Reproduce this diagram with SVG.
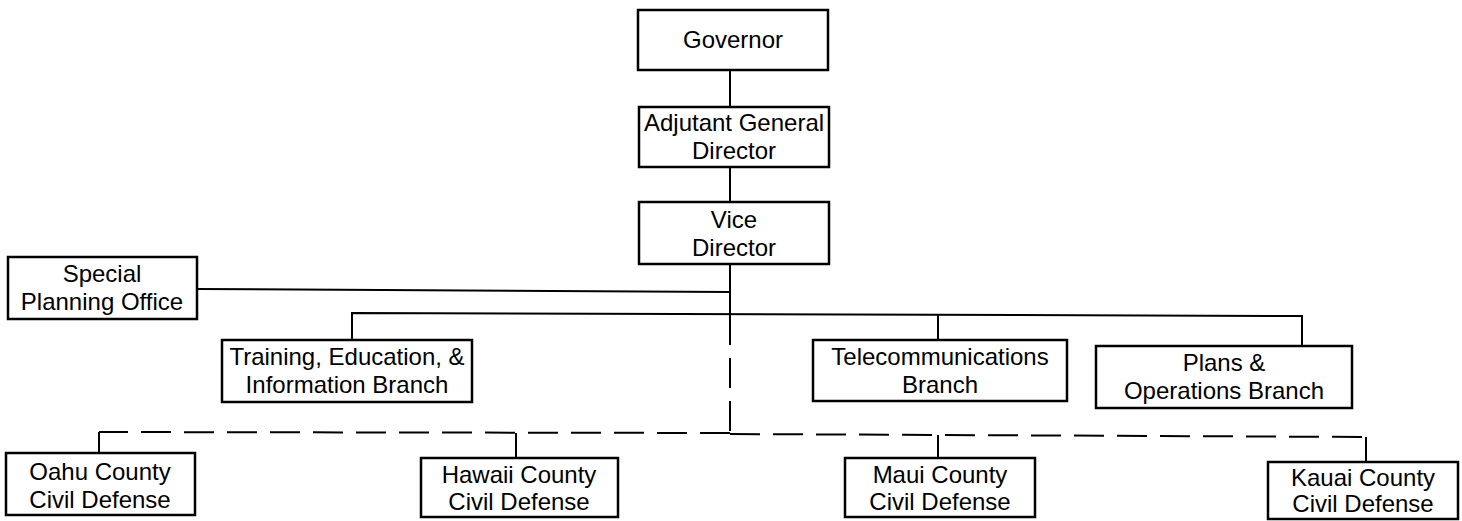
<svg xmlns="http://www.w3.org/2000/svg" width="1462" height="521" viewBox="0 0 1462 521">
<style>
.n rect{fill:#fff;stroke:#000;stroke-width:2.5}
text{font-family:"Liberation Sans",Arial,sans-serif;font-size:24px;fill:#000;text-anchor:middle}
.c line,.c polyline{stroke:#000;stroke-width:2;fill:none}
.c .d{stroke-dasharray:30 13}
</style>
<rect width="1462" height="521" fill="#fff"/>
<g class="c" id="connectors">
<line x1="730" y1="70" x2="730" y2="107"/>
<line x1="730" y1="167" x2="730" y2="202"/>
<line x1="730" y1="264" x2="730" y2="315"/>
<line x1="197" y1="289" x2="730" y2="292"/>
<polyline points="352,340 352,313 1302,316 1302,346"/>
<line x1="938" y1="315" x2="938" y2="340"/>
<line class="d" x1="730" y1="315" x2="730" y2="433"/>
<polyline class="d" points="730,433 99,432"/>
<polyline class="d" points="730,434 1366,437"/>
<line x1="99" y1="432" x2="99" y2="453"/>
<line x1="516" y1="433" x2="516" y2="458"/>
<line x1="938" y1="435" x2="938" y2="458"/>
<line x1="1366" y1="437" x2="1366" y2="462"/>
</g>
<g class="n" id="governor"><rect x="638" y="10" width="190" height="60"/><text x="733" y="48">Governor</text></g>
<g class="n" id="adjutant"><rect x="639" y="107" width="190" height="60"/><text x="734" y="131">Adjutant General</text><text x="734" y="159">Director</text></g>
<g class="n" id="vice"><rect x="639" y="202" width="190" height="62"/><text x="734" y="228">Vice</text><text x="734" y="256">Director</text></g>
<g class="n" id="special"><rect x="8" y="257" width="189" height="62"/><text x="102" y="282">Special</text><text x="102" y="310">Planning Office</text></g>
<g class="n" id="training"><rect x="222" y="340" width="250" height="62"/><text x="347" y="365">Training, Education, &amp;</text><text x="347" y="393">Information Branch</text></g>
<g class="n" id="telecom"><rect x="813" y="340" width="254" height="61"/><text x="940" y="365">Telecommunications</text><text x="940" y="393">Branch</text></g>
<g class="n" id="plans"><rect x="1096" y="346" width="256" height="62"/><text x="1224" y="371">Plans &amp;</text><text x="1224" y="399">Operations Branch</text></g>
<g class="n" id="oahu"><rect x="6" y="453" width="189" height="62"/><text x="100" y="480">Oahu County</text><text x="100" y="508">Civil Defense</text></g>
<g class="n" id="hawaii"><rect x="421" y="458" width="197" height="59"/><text x="519" y="483">Hawaii County</text><text x="519" y="510">Civil Defense</text></g>
<g class="n" id="maui"><rect x="845" y="458" width="190" height="59"/><text x="940" y="483">Maui County</text><text x="940" y="510">Civil Defense</text></g>
<g class="n" id="kauai"><rect x="1268" y="462" width="190" height="57"/><text x="1363" y="486">Kauai County</text><text x="1363" y="512">Civil Defense</text></g>
</svg>
